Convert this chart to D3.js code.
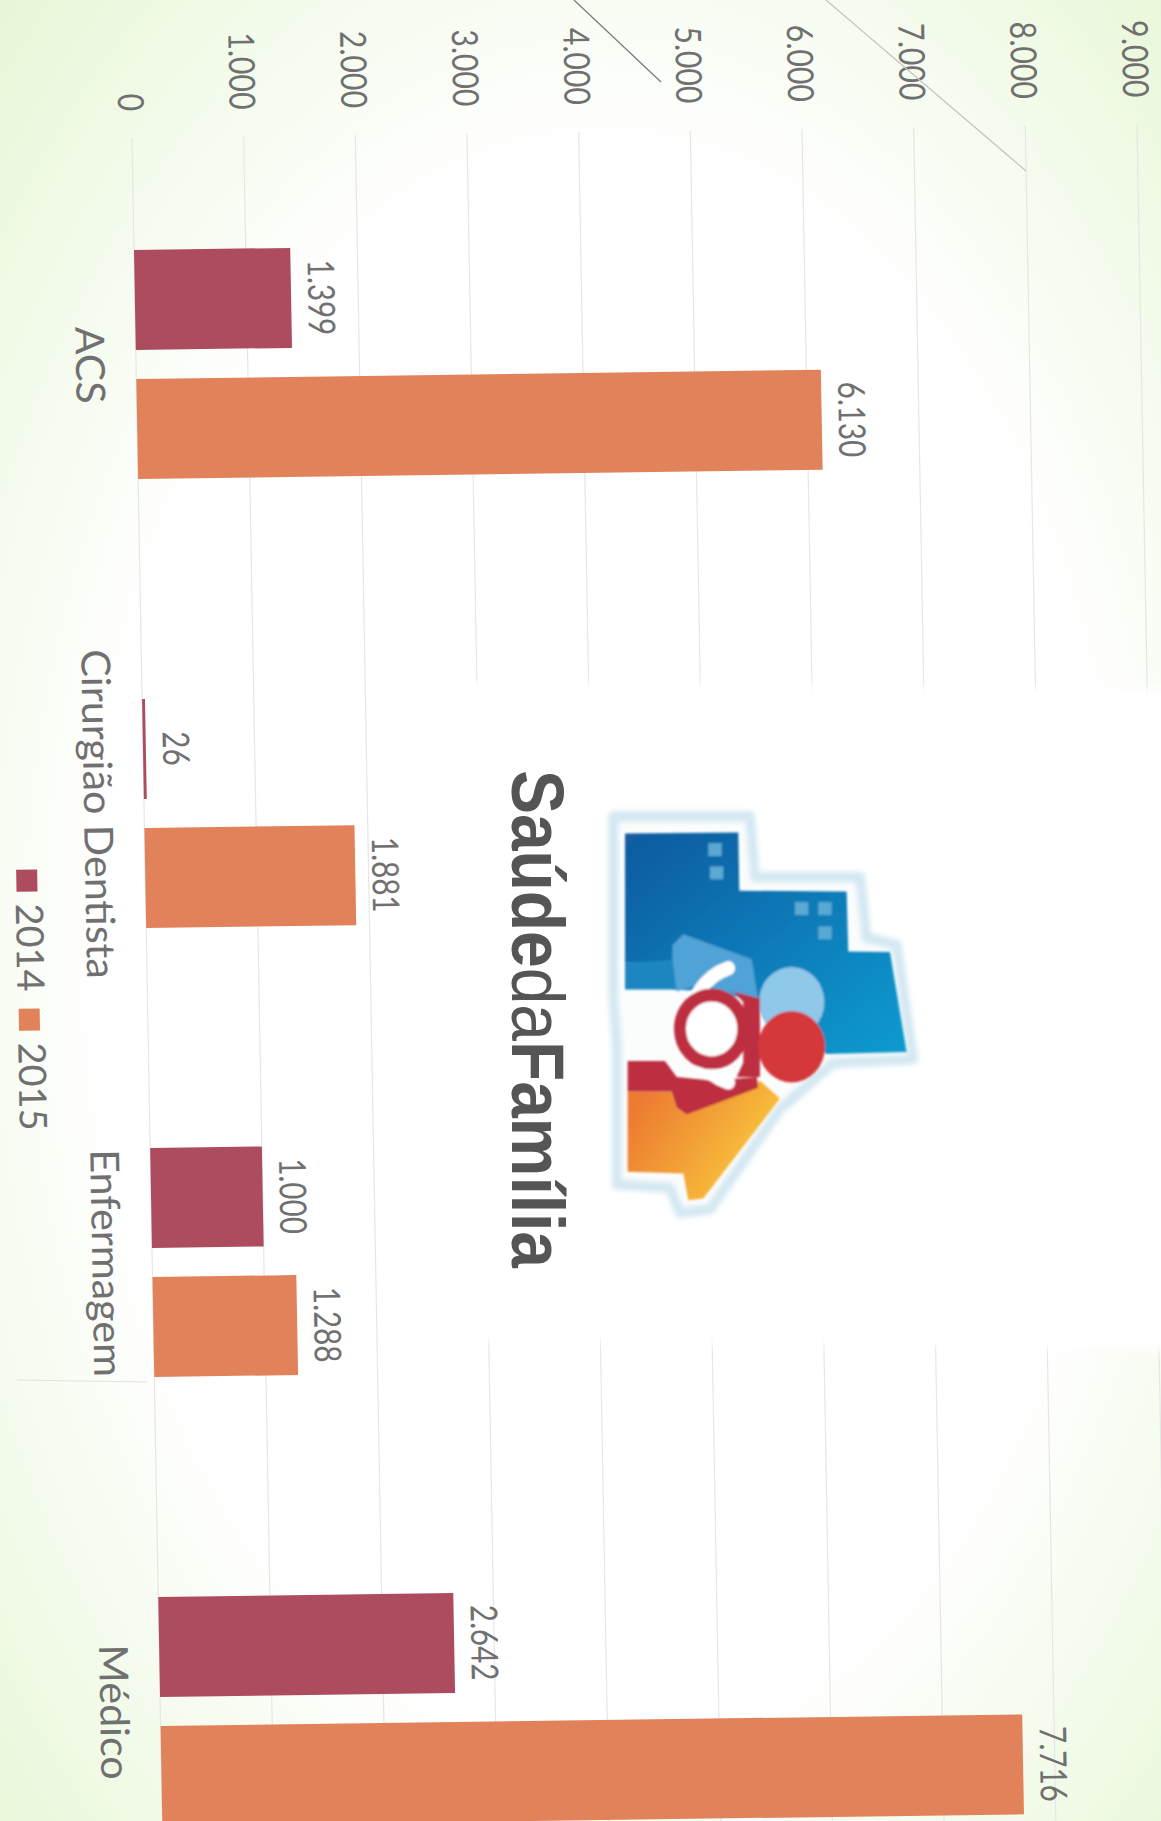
<!DOCTYPE html>
<html>
<head>
<meta charset="utf-8">
<script src="https://cdn.jsdelivr.net/npm/d3@7"></script>
<style>
html, body { margin: 0; padding: 0; background: #fff; }
svg { display: block; }
text { font-family: Lato, "Open Sans", sans-serif; fill: #707070; }
</style>
</head>
<body>
<svg id="chart" width="1161" height="1821"></svg>
<script>
var categories = ["ACS", "Cirurgião Dentista", "Enfermagem", "Médico"];
var years = ["2014", "2015"];
var values2014 = [1399, 26, 1000, 2642];
var values2015 = [6130, 1881, 1288, 7716];
var yTicks = [0, 1000, 2000, 3000, 4000, 5000, 6000, 7000, 8000, 9000];

var W = 1161, H = 1821;
var YEAR_COLORS = { "2014": "#ae4c5f", "2015": "#e2825a" };

var svg = d3.select("#chart");
var defs = svg.append("defs");

// scanned page: white middle, pale green towards the corners
var paper = defs.append("radialGradient").attr("id", "paper")
    .attr("cx", "52%").attr("cy", "52%").attr("r", "75%");
paper.append("stop").attr("offset", "58%").attr("stop-color", "#ffffff");
paper.append("stop").attr("offset", "100%").attr("stop-color", "#e6f6d4");
svg.append("rect").attr("width", W).attr("height", H).attr("fill", "url(#paper)");

// the chart is drawn upright and then turned a quarter, with the slight tilt of the scan
var g = svg.append("g").attr("transform", "matrix(0.018,1,-1,0.0135,129.5,0)");

var y = d3.scaleLinear().domain([0, 9000]).range([0, -1005]);
var x0 = d3.scaleBand().domain(categories).range([140, 1936]).paddingInner(0.49).paddingOuter(0.245);
var x1 = d3.scaleBand().domain(years).range([0, x0.bandwidth()]).paddingInner(0.225);

function fmt(v) {
    return d3.format(",")(v).replace(/,/g, ".");
}

// glyphs in the scan are not the proportions of the font
function squeezed(sel, px, py, k) {
    sel.attr("x", 0).attr("y", 0)
        .attr("transform", function(d, i) {
            return "translate(" + px(d, i) + "," + py(d, i) + ") scale(" + k + ",1)";
        });
}

// grid
g.append("g").attr("class", "grid").selectAll("line")
    .data(yTicks)
    .enter().append("line")
    .attr("x1", 138).attr("x2", 1950)
    .attr("y1", function(d) { return y(d); })
    .attr("y2", function(d) { return y(d); })
    .attr("stroke", "#e6e6e6").attr("stroke-width", 1.2);

// value labels come from the axis
var yAxis = d3.axisLeft(y).tickValues(yTicks).tickFormat(fmt).tickSize(0).tickPadding(0);
var axisG = g.append("g").attr("transform", "translate(111,0)").call(yAxis);
axisG.select(".domain").remove();
axisG.selectAll("text")
    .attr("text-anchor", "end").attr("dy", "0.36em")
    .style("font-size", "36px").style("font-weight", 400)
    .call(squeezed, function() { return 0; }, function() { return 0; }, 0.84);

// white box behind the logo hides the upper grid
defs.append("filter").attr("id", "edge").append("feGaussianBlur").attr("stdDeviation", 5);
svg.append("polygon")
    .attr("points", "402,680 1190,690 1190,1350 412,1340")
    .attr("fill", "#fff").attr("filter", "url(#edge)");

var series = years.map(function(yr, i) {
    var vals = i === 0 ? values2014 : values2015;
    return categories.map(function(c, j) { return { cat: c, year: yr, value: vals[j] }; });
});

var groups = g.selectAll("g.stack")
    .data(series)
    .enter().append("g").attr("class", "stack");

groups.selectAll("rect.bar")
    .data(function(d) { return d; })
    .enter().append("rect")
    .attr("class", "bar")
    .attr("x", function(d) { return x0(d.cat) + x1(d.year); })
    .attr("y", function(d) { return y(d.value); })
    .attr("width", x1.bandwidth())
    .attr("height", function(d) { return y(0) - y(d.value); })
    .attr("fill", function(d) { return YEAR_COLORS[d.year]; });

groups.selectAll("text.value")
    .data(function(d) { return d; })
    .enter().append("text")
    .attr("class", "value")
    .attr("text-anchor", "middle")
    .style("font-size", "37px").style("font-weight", 400)
    .text(function(d) { return fmt(d.value); })
    .call(squeezed,
        function(d) { return x0(d.cat) + x1(d.year) + x1.bandwidth() / 2; },
        function(d) { return y(d.value) - 17; }, 0.8);

// category labels
g.selectAll("text.cat")
    .data(categories)
    .enter().append("text")
    .attr("class", "cat")
    .attr("text-anchor", "middle")
    .style("font-size", "40px").style("font-weight", 400)
    .text(function(d) { return d; })
    .call(squeezed,
        function(d) { return x0(d) + x0.bandwidth() / 2; },
        function() { return 60; }, 1.03);

// legend
var legendX = d3.scaleOrdinal().domain(years).range([868, 1007]);
var legend = g.selectAll("g.legend")
    .data(years)
    .enter().append("g").attr("class", "legend")
    .attr("transform", function(d) { return "translate(" + legendX(d) + ",118)"; });
legend.append("rect")
    .attr("x", 0).attr("y", -10)
    .attr("width", 22).attr("height", 21)
    .attr("fill", function(d) { return YEAR_COLORS[d]; });
legend.append("text")
    .style("font-size", "38px").style("font-weight", 400)
    .text(function(d) { return d; })
    .call(squeezed, function() { return 34; }, function() { return 12; }, 1.0);

// logo, traced in a 3 x 2.8 grid
var blueGrad = defs.append("linearGradient").attr("id", "blueGrad")
    .attr("x1", "0").attr("y1", "0").attr("x2", "1").attr("y2", "1");
blueGrad.append("stop").attr("offset", "0").attr("stop-color", "#125a9f");
blueGrad.append("stop").attr("offset", "1").attr("stop-color", "#0a9bd0");
var orangeGrad = defs.append("linearGradient").attr("id", "orangeGrad")
    .attr("x1", "0").attr("y1", "0.3").attr("x2", "1").attr("y2", "0.8");
orangeGrad.append("stop").attr("offset", "0").attr("stop-color", "#ec7a30");
orangeGrad.append("stop").attr("offset", "1").attr("stop-color", "#fbd23f");
defs.append("filter").attr("id", "soft").append("feGaussianBlur").attr("stdDeviation", 8);
defs.append("filter").attr("id", "print").append("feGaussianBlur").attr("stdDeviation", 3);

var logo = svg.append("g").attr("transform", "translate(480,720) scale(0.3333,0.3571)");
var halo = "M400,270 L810,270 L825,440 L1140,440 L1160,610 L1250,630 L1300,950 L1060,960 L900,1090 L690,1370 L600,1380 L570,1310 L410,1300 L410,900 L400,780 Z";
logo.append("path").attr("d", halo).attr("fill", "#fbfdfd")
    .attr("stroke", "#d4e8f2").attr("stroke-width", 30).attr("stroke-linejoin", "round").attr("filter", "url(#soft)");
var marks = logo.append("g").attr("filter", "url(#print)");
marks.append("path")
    .attr("d", "M435,318 L775,315 L778,478 L1100,480 L1105,648 L1230,650 L1280,930 L1040,935 L830,800 L820,700 L600,640 L575,680 L435,680 Z")
    .attr("fill", "url(#blueGrad)");
marks.append("path").attr("d", "M435,680 L575,672 L578,630 L610,600 L815,670 L835,790 L700,760 L570,755 L435,755 Z").attr("fill", "#1c86c0");
marks.append("path").attr("d", "M578,672 L578,630 L610,600 L815,670 L835,790 L660,740 L590,760 Z").attr("fill", "#4fa3d6");
marks.append("circle").attr("cx", 935).attr("cy", 790).attr("r", 98).attr("fill", "#90c8ea");
marks.selectAll("rect.win")
    .data([[685, 345], [690, 410], [945, 510], [1015, 510], [1015, 578]])
    .enter().append("rect").attr("class", "win")
    .attr("x", function(d) { return d[0]; }).attr("y", function(d) { return d[1]; })
    .attr("width", 40).attr("height", 36).attr("fill", "#5aa8d4");
marks.append("path")
    .attr("d", "M443,1040 L575,1040 L590,1085 L620,1105 L840,1010 L900,1060 L670,1340 L625,1345 L610,1270 L443,1265 Z")
    .attr("fill", "url(#orangeGrad)");
marks.append("path")
    .attr("d", "M443,955 L555,955 L590,1000 L700,1010 L830,1000 L835,1030 L620,1105 L590,1085 L575,1040 L443,1040 Z")
    .attr("fill", "#bd2f40");
marks.append("path").attr("d", "M760,760 L840,780 L840,1000 L770,1000 L790,960 L790,790 Z").attr("fill", "#bd2f40");
marks.append("path")
    .attr("d", "M745,695 A168,168 0 0 0 745,1015")
    .attr("fill", "none").attr("stroke", "#fff").attr("stroke-width", 40).attr("stroke-linecap", "round");
marks.append("circle").attr("cx", 695).attr("cy", 865).attr("r", 95)
    .attr("fill", "#fff").attr("stroke", "#bd2f40").attr("stroke-width", 36);
marks.append("circle").attr("cx", 935).attr("cy", 915).attr("r", 100).attr("fill", "#d5393b");

var logoText = svg.append("text")
    .attr("transform", "translate(512,770) rotate(90)")
    .attr("textLength", 498).attr("lengthAdjust", "spacingAndGlyphs")
    .style("font-size", "74px").style("fill", "#555")
    .style("font-family", "'Liberation Sans', sans-serif");
logoText.append("tspan").style("font-weight", 700).text("Saúde");
logoText.append("tspan").style("font-weight", 400).text("da");
logoText.append("tspan").style("font-weight", 700).text("Família");

// creases in the scanned sheet
svg.selectAll("line.crease")
    .data([[574, 0, 661, 82, "#777", 1.2], [826, 0, 1026, 171, "#c4c4c4", 1.2], [17, 1380, 147, 1382, "#e2e2e2", 1]])
    .enter().append("line").attr("class", "crease")
    .attr("x1", function(d) { return d[0]; }).attr("y1", function(d) { return d[1]; })
    .attr("x2", function(d) { return d[2]; }).attr("y2", function(d) { return d[3]; })
    .attr("stroke", function(d) { return d[4]; }).attr("stroke-width", function(d) { return d[5]; });
</script>
</body>
</html>
